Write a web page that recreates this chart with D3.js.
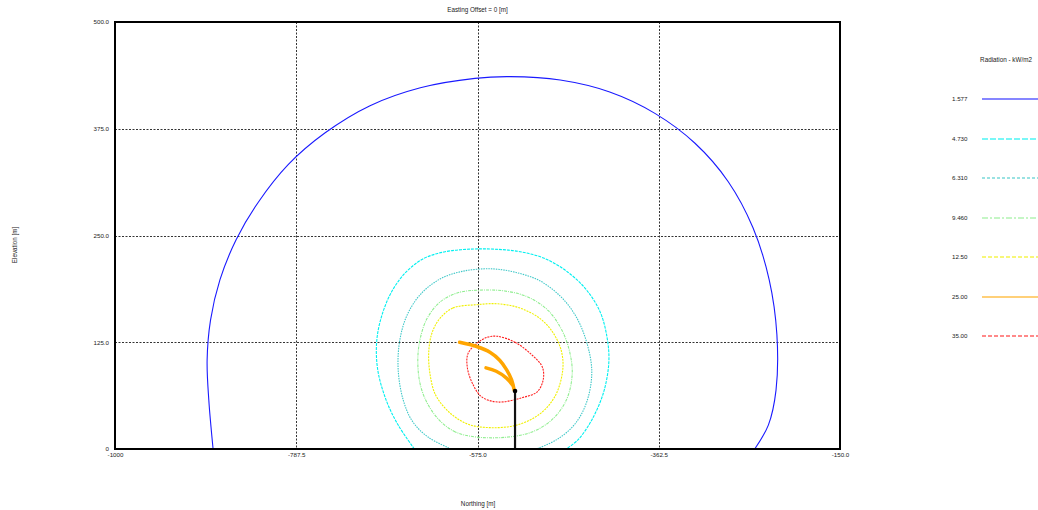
<!DOCTYPE html>
<html><head><meta charset="utf-8">
<script src="https://cdn.jsdelivr.net/npm/d3@7"></script>
<style>
html,body{margin:0;padding:0;background:#fff;}
svg{display:block;font-family:"Liberation Sans",Arial,sans-serif;}
</style></head>
<body><svg id="c" width="1038" height="510"></svg>
<script>
// ---- data ----
const title = "Easting Offset = 0 [m]";
const xLabel = "Northing [m]";
const yLabel = "Elevation [m]";
const legendTitle = "Radiation - kW/m2";
const xDomain = [-1000, -150];
const yDomain = [0, 500];
const xTicks = [-1000, -787.5, -575, -362.5, -150];
const xTickLabels = ["-1000", "-787.5", "-575.0", "-362.5", "-150.0"];
const yTicks = [0, 125, 250, 375, 500];
const yTickLabels = ["0", "125.0", "250.0", "375.0", "500.0"];
const levels = ["1.577", "4.730", "6.310", "9.460", "12.50", "25.00", "35.00"];

// contour points [northing, elevation]
const contour1577 = [[-885,0],[-890,57],[-892,104],[-888,151],[-877,198],[-858,245],[-832,289],[-797,333],[-754,370],[-701,402],[-642,423],[-578,434],[-537,436],[-478,432],[-420,418],[-367,393],[-320,358],[-281,313],[-252,259],[-233,198],[-224,134],[-225,69],[-234,28],[-250,0]];
const contour4730 = [[-649,0],[-668,28],[-682,57],[-692,93],[-693,128],[-686,160],[-674,187],[-658,208],[-638,223],[-613,231],[-584,234],[-555,234],[-525,231],[-496,223],[-469,207],[-447,186],[-431,160],[-423,130],[-421,102],[-427,67],[-441,34],[-457,11],[-471,0]];
const contour6310 = [[-606,0],[-633,14],[-651,32],[-662,57],[-668,93],[-666,128],[-657,158],[-641,182],[-619,199],[-593,208],[-560,211],[-531,207],[-502,197],[-478,179],[-460,156],[-447,125],[-441,90],[-447,55],[-461,29],[-482,11],[-506,0]];
const contour9460 = [[-576,14],[-601,20],[-619,33],[-633,52],[-642,75],[-645,104],[-642,130],[-634,153],[-619,172],[-598,183],[-572,186],[-543,185],[-516,178],[-492,162],[-476,139],[-467,114],[-464,87],[-471,57],[-488,34],[-511,20],[-539,14]];
const contour1250 = [[-576,169],[-604,165],[-619,153],[-628,137],[-632,116],[-631,90],[-624,63],[-607,42],[-586,29],[-560,25],[-529,28],[-502,41],[-484,62],[-475,93],[-477,116],[-487,137],[-502,153],[-525,165],[-551,170]];
const contour3500 = [[-552,132],[-531,125],[-511,110],[-499,96],[-498,81],[-505,67],[-523,60],[-551,55],[-570,61],[-581,77],[-587,96],[-586,112],[-574,125],[-563,131]];
// 25.00 kW/m2 region drawn as the plume branches
const plumeUpper = [[-532,69],[-535,81],[-541,93],[-549,104],[-560,113],[-576,120],[-596,125]];
const plumeLower = [[-534,75],[-541,83],[-553,91],[-565,95]];
const stackNorthing = -531;
const stackHeight = 68;

// ---- styles ----
const styles = [
  {color:"#1a1aff", dash:null},
  {color:"#00f0f0", dash:"3,1"},
  {color:"#40c8c8", dash:"1.5,1"},
  {color:"#90ee90", dash:"3,1,1,1"},
  {color:"#f0f000", dash:"2,1"},
  {color:"#ffa500", dash:null},
  {color:"#ff2020", dash:"2,1"}
];

const svg = d3.select("#c");
const L = 115, R = 840, T = 22, B = 449;
const x = d3.scaleLinear().domain(xDomain).range([L, R]);
const y = d3.scaleLinear().domain(yDomain).range([B, T]);

svg.append("defs").append("clipPath").attr("id","pc")
  .append("rect").attr("x",L).attr("y",T).attr("width",R-L).attr("height",B-T);

// grid
const grid = svg.append("g").attr("stroke","#333").attr("stroke-width",1).attr("stroke-dasharray","2,1.5");
xTicks.slice(1,-1).forEach(v=>{
  grid.append("line").attr("x1",Math.round(x(v))+0.5).attr("x2",Math.round(x(v))+0.5).attr("y1",T).attr("y2",B);
});
yTicks.slice(1,-1).forEach(v=>{
  grid.append("line").attr("y1",Math.round(y(v))+0.5).attr("y2",Math.round(y(v))+0.5).attr("x1",L).attr("x2",R);
});

// axes with labels
const xAxis = d3.axisBottom(x).tickValues(xTicks).tickFormat((d,i)=>xTickLabels[i]).tickSize(0).tickPadding(4);
const gx = svg.append("g").attr("transform",`translate(0,${B})`).call(xAxis);
gx.select(".domain").remove();
gx.selectAll("text").attr("font-size","6.2px").attr("fill","#222").attr("font-family","Liberation Sans, Arial, sans-serif");
const yAxis = d3.axisLeft(y).tickValues(yTicks).tickFormat((d,i)=>yTickLabels[i]).tickSize(0).tickPadding(6);
const gy = svg.append("g").attr("transform",`translate(${L},0)`).call(yAxis);
gy.select(".domain").remove();
gy.selectAll("text").attr("font-size","6.2px").attr("fill","#222").attr("font-family","Liberation Sans, Arial, sans-serif");

// contours
const plot = svg.append("g").attr("clip-path","url(#pc)");
const openLine = d3.line().x(d=>x(d[0])).y(d=>y(d[1])).curve(d3.curveCatmullRom.alpha(0.5));
const closedLine = d3.line().x(d=>x(d[0])).y(d=>y(d[1])).curve(d3.curveCatmullRomClosed.alpha(0.5));
const contours = [
  {pts:contour1577, s:styles[0], closed:false},
  {pts:contour4730, s:styles[1], closed:false},
  {pts:contour6310, s:styles[2], closed:false},
  {pts:contour9460, s:styles[3], closed:true},
  {pts:contour1250, s:styles[4], closed:true},
  {pts:contour3500, s:styles[6], closed:true}
];
contours.forEach(c=>{
  plot.append("path").attr("d",(c.closed?closedLine:openLine)(c.pts))
    .attr("fill","none").attr("stroke",c.s.color).attr("stroke-width",1.1)
    .attr("stroke-dasharray",c.s.dash);
});
// plume (25.00)
const plumeLine = d3.line().x(d=>x(d[0])).y(d=>y(d[1])).curve(d3.curveCatmullRom);
[plumeUpper, plumeLower].forEach(p=>{
  plot.append("path").attr("d",plumeLine(p)).attr("fill","none")
    .attr("stroke",styles[5].color).attr("stroke-width",3.5).attr("stroke-linecap","round");
});
// stack
plot.append("line").attr("x1",x(stackNorthing)).attr("x2",x(stackNorthing))
  .attr("y1",y(0)).attr("y2",y(stackHeight)).attr("stroke","#111").attr("stroke-width",2.2);
plot.append("circle").attr("cx",x(stackNorthing)).attr("cy",y(stackHeight)).attr("r",2.3).attr("fill","#000");

// frame
svg.append("rect").attr("x",L).attr("y",T).attr("width",R-L).attr("height",B-T)
  .attr("fill","none").attr("stroke","#000").attr("stroke-width",2);

// titles
svg.append("text").attr("x",(L+R)/2).attr("y",12).attr("text-anchor","middle")
  .attr("font-size","6.3px").attr("fill","#222").text(title);
svg.append("text").attr("x",478).attr("y",506).attr("text-anchor","middle")
  .attr("font-size","6.3px").attr("fill","#222").text(xLabel);
svg.append("text").attr("transform","translate(17,245) rotate(-90)").attr("text-anchor","middle")
  .attr("font-size","6.3px").attr("fill","#222").text(yLabel);

// legend
svg.append("text").attr("x",1006).attr("y",62).attr("text-anchor","middle")
  .attr("font-size","6.3px").attr("fill","#222").text(legendTitle);
const legY = d3.scaleLinear().domain([0, levels.length-1]).range([99, 336]);
levels.forEach((lv,i)=>{
  const s = styles[i];
  const yy = Math.round(legY(i));
  svg.append("text").attr("x",952).attr("y",yy+2).attr("font-size","6.2px").attr("fill","#222").text(lv);
  svg.append("line").attr("x1",982).attr("x2",1038).attr("y1",yy).attr("y2",yy)
    .attr("stroke",s.color).attr("stroke-width",1.6).attr("stroke-opacity",0.7)
    .attr("stroke-dasharray",s.dash ? s.dash.split(",").map(v=>v*2).join(",") : null);
});
</script></body></html>
